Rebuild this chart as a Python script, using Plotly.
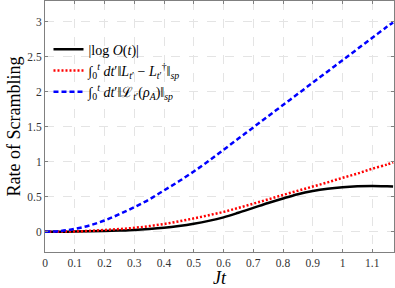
import plotly.graph_objects as go

jt = [0, 0.05, 0.1, 0.15, 0.2, 0.25, 0.3, 0.35, 0.4, 0.45, 0.5, 0.55, 0.6, 0.65,
      0.7, 0.75, 0.8, 0.85, 0.9, 0.95, 1.0, 1.05, 1.1, 1.15, 1.17]
log_o = [0, 0, 0.002, 0.005, 0.01, 0.017, 0.026, 0.04, 0.058, 0.083, 0.115, 0.155, 0.205,
         0.27, 0.34, 0.41, 0.475, 0.535, 0.58, 0.613, 0.635, 0.648, 0.652, 0.648, 0.645]
red_int = [0, 0.001, 0.004, 0.012, 0.025, 0.038, 0.055, 0.08, 0.11, 0.148, 0.19, 0.235,
           0.283, 0.34, 0.40, 0.462, 0.525, 0.585, 0.645, 0.705, 0.77, 0.83, 0.90, 0.96, 0.99]
blue_int = [0, 0.01, 0.04, 0.09, 0.16, 0.25, 0.35, 0.46, 0.59, 0.72, 0.86, 1.01, 1.17,
            1.33, 1.49, 1.65, 1.81, 1.97, 2.13, 2.29, 2.45, 2.61, 2.77, 2.93, 2.99]

x_ticks = [0, 0.1, 0.2, 0.3, 0.4, 0.5, 0.6, 0.7, 0.8, 0.9, 1.0, 1.1]
x_labels = ["0", "0.1", "0.2", "0.3", "0.4", "0.5", "0.6", "0.7", "0.8", "0.9", "1", "1.1"]
y_ticks = [0, 0.5, 1, 1.5, 2, 2.5, 3]
y_labels = ["0", "0.5", "1", "1.5", "2", "2.5", "3"]

names = [
    "|log <i>O</i>(<i>t</i>)|",
    "∫<sub>0</sub><sup><i>t</i></sup> <i>dt</i>′‖<i>L</i><sub><i>t</i>′</sub> − <i>L</i><sub><i>t</i>′</sub><sup>†</sup>‖<sub><i>sp</i></sub>",
    "∫<sub>0</sub><sup><i>t</i></sup> <i>dt</i>′‖ℒ<sub><i>t</i>′</sub>(<i>ρ</i><sub><i>A</i></sub>)‖<sub><i>sp</i></sub>",
]

FONT = "Liberation Serif"

fig = go.Figure()
fig.add_trace(go.Scatter(x=jt, y=log_o, mode="lines", name=names[0],
                         line=dict(color="black", width=2.5, shape="spline")))
fig.add_trace(go.Scatter(x=jt, y=red_int, mode="lines", name=names[1],
                         line=dict(color="#ff0000", width=2.5, dash="2px,2px", shape="spline")))
fig.add_trace(go.Scatter(x=jt, y=blue_int, mode="lines", name=names[2],
                         line=dict(color="#0000ff", width=2.5, dash="5px,3px", shape="spline")))

axis_common = dict(
    showline=True, linecolor="#808080", linewidth=1, mirror="allticks",
    ticks="inside", ticklen=3, tickcolor="#808080",
    showgrid=True, gridcolor="#e4e4e4", griddash="dash", gridwidth=1,
    zeroline=False, automargin=False,
    tickfont=dict(family=FONT, size=11.5, color="#333"),
)

fig.update_layout(
    width=395, height=288,
    margin=dict(l=45, r=1, t=1, b=36),
    paper_bgcolor="white", plot_bgcolor="white",
    font=dict(family=FONT, color="black"),
    showlegend=True,
    legend=dict(x=0.01, y=0.87, xanchor="left", yanchor="top",
                bgcolor="rgba(255,255,255,0)", borderwidth=0,
                font=dict(family=FONT, size=14, color="black"),
                tracegroupgap=0),
    xaxis=dict(range=[0, 1.173], tickvals=x_ticks, ticktext=x_labels,
               title=dict(text="<i>Jt</i>", font=dict(family=FONT, size=18), standoff=2),
               **axis_common),
    yaxis=dict(range=[-0.29, 3.296], tickvals=y_ticks, ticktext=y_labels,
               title=dict(text="Rate of Scrambling", font=dict(family=FONT, size=18), standoff=2),
               **axis_common),
)

fig.write_html("out.html", config={"displayModeBar": False},
               post_script="document.body.style.margin='0';")
